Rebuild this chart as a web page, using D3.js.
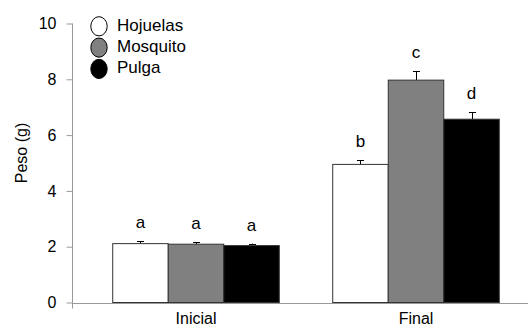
<!DOCTYPE html>
<html lang="en">
<head>
  <meta charset="UTF-8">
  <title>Peso (g)</title>
  <script src="https://d3js.org/d3.v7.min.js"></script>
  <style>
    body { margin: 0; background: #fff; }
    text { font-family: "Liberation Sans", Arial, sans-serif; fill: #000; }
  </style>
</head>
<body>
  <div id="chart"></div>
  <script>
    const categories = ["Inicial", "Final"];
    const series = ["Hojuelas", "Mosquito", "Pulga"];
    const hojuelas = [2.11, 4.95];
    const mosquito = [2.09, 7.97];
    const pulga = [2.04, 6.57];
    const hojuelasErr = [0.08, 0.14];
    const mosquitoErr = [0.07, 0.33];
    const pulgaErr = [0.07, 0.25];
    const hojuelasLetters = ["a", "b"];
    const mosquitoLetters = ["a", "c"];
    const pulgaLetters = ["a", "d"];
    const yTicks = [0, 2, 4, 6, 8, 10];

    const fills = {Hojuelas: "#ffffff", Mosquito: "#808080", Pulga: "#000000"};
    const values = {Hojuelas: hojuelas, Mosquito: mosquito, Pulga: pulga};
    const errs = {Hojuelas: hojuelasErr, Mosquito: mosquitoErr, Pulga: pulgaErr};
    const letters = {Hojuelas: hojuelasLetters, Mosquito: mosquitoLetters, Pulga: pulgaLetters};

    const width = 528, height = 328;
    const svg = d3.select("#chart").append("svg")
      .attr("width", width)
      .attr("height", height);

    const x = d3.scaleBand()
      .domain(categories)
      .range([86, 526])
      .paddingInner(0.243)
      .paddingOuter(0.1215);
    const xs = d3.scaleBand()
      .domain(series)
      .range([0, x.bandwidth()]);
    const y = d3.scaleLinear()
      .domain([0, 10])
      .range([302.5, 23.5]);

    const rows = [];
    categories.forEach((c, i) => {
      series.forEach(s => {
        rows.push({cat: c, s: s, v: values[s][i], e: errs[s][i], l: letters[s][i]});
      });
    });

    // error bars (upper half only, lower part hidden by bar)
    const eb = svg.append("g");
    rows.forEach(d => {
      const cx = Math.round(x(d.cat) + xs(d.s) + xs.bandwidth() / 2) + 0.5;
      eb.append("line")
        .attr("x1", cx).attr("x2", cx)
        .attr("y1", y(d.v)).attr("y2", y(d.v + d.e))
        .attr("stroke", "#000").attr("stroke-width", 1);
      eb.append("line")
        .attr("x1", cx - 3.5).attr("x2", cx + 3.5)
        .attr("y1", Math.round(y(d.v + d.e)) + 0.5).attr("y2", Math.round(y(d.v + d.e)) + 0.5)
        .attr("stroke", "#000").attr("stroke-width", 1);
    });

    svg.append("g")
      .selectAll("rect")
      .data(rows)
      .join("rect")
      .attr("x", d => x(d.cat) + xs(d.s))
      .attr("y", d => y(d.v))
      .attr("width", xs.bandwidth())
      .attr("height", d => y(0) - y(d.v))
      .attr("fill", d => fills[d.s])
      .attr("stroke", "#333")
      .attr("stroke-width", 1);

    svg.append("g")
      .selectAll("text")
      .data(rows)
      .join("text")
      .attr("x", d => x(d.cat) + xs(d.s) + xs.bandwidth() / 2)
      .attr("y", d => y(d.v + d.e) - 13)
      .attr("text-anchor", "middle")
      .style("font-size", "17px")
      .text(d => d.l);

    // y axis
    const yAxis = svg.append("g")
      .attr("transform", "translate(72.5,0)")
      .call(d3.axisLeft(y).tickValues(yTicks).tickSize(6).tickPadding(10));
    yAxis.select(".domain").remove();
    yAxis.selectAll(".tick line").attr("stroke", "#999");
    yAxis.selectAll(".tick text")
      .style("font-size", "16px")
      .style("font-family", "'Liberation Sans', Arial, sans-serif");
    svg.append("line")
      .attr("x1", 72.5).attr("x2", 72.5)
      .attr("y1", y(10)).attr("y2", y(0) + 6)
      .attr("stroke", "#999");

    // x axis
    svg.append("line")
      .attr("x1", 72.5).attr("x2", width)
      .attr("y1", Math.round(y(0)) + 0.5).attr("y2", Math.round(y(0)) + 0.5)
      .attr("stroke", "#999");
    svg.append("g")
      .selectAll("text")
      .data(categories)
      .join("text")
      .attr("x", d => x(d) + x.bandwidth() / 2)
      .attr("y", 324)
      .attr("text-anchor", "middle")
      .style("font-size", "16px")
      .text(d => d);

    svg.append("text")
      .attr("transform", "translate(27,153) rotate(-90)")
      .attr("text-anchor", "middle")
      .style("font-size", "16px")
      .text("Peso (g)");

    // legend
    const leg = svg.append("g");
    series.forEach((s, i) => {
      const cy = 26.3 + i * 21.3;
      leg.append("ellipse")
        .attr("cx", 99).attr("cy", cy)
        .attr("rx", 8.2).attr("ry", 9.6)
        .attr("fill", fills[s])
        .attr("stroke", "#000").attr("stroke-width", 1);
      leg.append("text")
        .attr("x", 117)
        .attr("y", cy + 4.5)
        .style("font-size", "17px")
        .text(s);
    });
  </script>
</body>
</html>
